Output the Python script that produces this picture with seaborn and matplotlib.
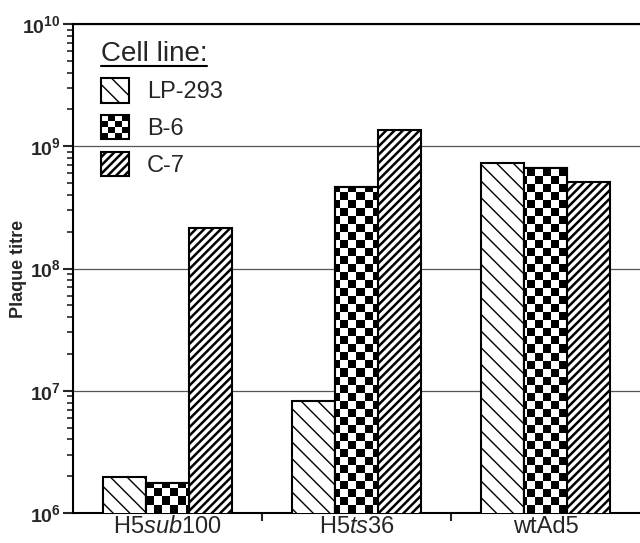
import numpy as np
import pandas as pd
import matplotlib
matplotlib.use('Agg')
import matplotlib.pyplot as plt
import seaborn as sns
from matplotlib.patches import Patch, Rectangle
from matplotlib.legend_handler import HandlerBase
from matplotlib.lines import Line2D
from matplotlib.ticker import LogLocator, FixedLocator, FuncFormatter, NullFormatter

viruses = ['H5sub100', 'H5ts36', 'wtAd5']
virus_labels = [r'H5$\mathit{sub}$100', r'H5$\mathit{ts}$36', 'wtAd5']
cell_lines = ['LP-293', 'B-6', 'C-7']
lp293 = [1.97e6, 8.2e6, 7.3e8]
b6 = [1.76e6, 4.6e8, 6.6e8]
c7 = [2.15e8, 1.36e9, 5.1e8]

df = pd.DataFrame({
    'virus': viruses * 3,
    'cell': [c for c in cell_lines for _ in viruses],
    'titre': lp293 + b6 + c7,
})

sns.set_style('white')
plt.rcParams['font.family'] = ['Liberation Sans', 'DejaVu Sans']
plt.rcParams['mathtext.fontset'] = 'custom'
plt.rcParams['mathtext.rm'] = 'Liberation Sans'
plt.rcParams['mathtext.it'] = 'Liberation Sans:italic'
plt.rcParams['mathtext.bf'] = 'Liberation Sans:bold'
plt.rcParams['hatch.linewidth'] = 1.0

fig = plt.figure(figsize=(6.4, 5.43), dpi=100)
ax = fig.add_axes([73/640, 1 - 513/543, 567/640, 489/543])
ax.set_yscale('log')

sns.barplot(data=df, x='virus', y='titre', hue='cell', order=viruses,
            hue_order=cell_lines, width=0.68, palette=['white'] * 3,
            edgecolor='black', linewidth=1.5, legend=False, ax=ax, zorder=3)


def hatch_lw(p, lw):
    try:
        p.set_hatch_linewidth(lw)
    except AttributeError:
        pass


# hatches
for bar in ax.containers[0]:
    bar.set_hatch('\\\\')
    hatch_lw(bar, 1.0)
for bar in ax.containers[2]:
    bar.set_hatch('////')
    hatch_lw(bar, 1.8)

# checkerboard for B-6
cell = 8.0
ncols = int(567 / cell)
nrows = int(489 / cell)
checker = (np.indices((nrows, ncols)).sum(axis=0) % 2).astype(float)
for bar in ax.containers[1]:
    im = ax.imshow(checker, cmap='gray', extent=[0, 1, 0, 1], transform=ax.transAxes,
                   interpolation='nearest', aspect='auto', zorder=3.5)
    im.set_clip_path(bar)
    edge = Rectangle(bar.get_xy(), bar.get_width(), bar.get_height(), fill=False,
                     edgecolor='black', linewidth=1.5, zorder=4)
    ax.add_patch(edge)
ax.set_xlim(-0.5, 2.5)
ax.set_ylim(1e6, 1e10)
ax.set_aspect('auto')

# axes styling
ax.spines['right'].set_visible(False)
for s in ['left', 'top', 'bottom']:
    ax.spines[s].set_linewidth(1.5)
    ax.spines[s].set_color('black')

ax.yaxis.set_major_locator(LogLocator(base=10, numticks=10))
ax.yaxis.set_minor_locator(LogLocator(base=10, subs=np.arange(2, 10), numticks=20))
ax.yaxis.set_minor_formatter(NullFormatter())
ax.yaxis.set_major_formatter(FuncFormatter(lambda v, p: r'$\mathbf{10^{%d}}$' % round(np.log10(v))))
ax.tick_params(axis='y', which='major', direction='out', length=7, width=1.5, labelsize=14, left=True, pad=2)
ax.tick_params(axis='y', which='minor', direction='out', length=4, width=1.2, left=True)
ax.grid(axis='y', which='major', color='#555555', linewidth=0.9, zorder=0)
ax.set_axisbelow(True)

ax.set_xticks(range(len(viruses)))
ax.set_xticklabels(virus_labels, fontsize=17)
ax.xaxis.set_minor_locator(FixedLocator([0.5, 1.5]))
ax.tick_params(axis='x', which='major', length=0, pad=2)
ax.tick_params(axis='x', which='minor', direction='out', length=6, width=1.5, bottom=True)
ax.set_xlabel('')
ax.set_ylabel('Plaque titre', fontsize=13, fontweight='bold')
ax.yaxis.set_label_coords(-0.082, 0.5)


class CheckerHandler(HandlerBase):
    def create_artists(self, legend, orig_handle, xdescent, ydescent, width, height, fontsize, trans):
        x0, y0 = -xdescent, -ydescent
        arts = [Rectangle((x0, y0), width, height, facecolor='white', edgecolor='none', transform=trans)]
        n = 4
        for i in range(n):
            for j in range(n):
                if (i + j) % 2 == 0:
                    arts.append(Rectangle((x0 + i * width / n, y0 + j * height / n), width / n, height / n,
                                          facecolor='black', edgecolor='none', transform=trans))
        arts.append(Rectangle((x0, y0), width, height, fill=False, edgecolor='black', linewidth=1.5, transform=trans))
        return arts


h_lp = Patch(facecolor='white', edgecolor='black', linewidth=1.5, hatch='\\\\')
h_b6 = Patch(facecolor='black')
h_c7 = Patch(facecolor='white', edgecolor='black', linewidth=1.5, hatch='////')
leg = ax.legend([h_lp, h_b6, h_c7], cell_lines, handler_map={h_b6: CheckerHandler()},
                title='Cell line:', title_fontsize=20, fontsize=17, frameon=False,
                loc='upper left', bbox_to_anchor=(0.02, 1.0), alignment='left',
                handlelength=1.2, handleheight=1.2, handletextpad=0.75, labelspacing=0.5,
                borderpad=0.2)
for h in leg.legend_handles:
    if h is not None and hasattr(h, 'get_hatch') and h.get_hatch() == '////':
        hatch_lw(h, 1.8)

fig.canvas.draw()
tb = leg.get_title().get_window_extent()
fx0, fx1 = tb.x0 / fig.bbox.width, tb.x1 / fig.bbox.width
fy = (tb.y0 + 1) / fig.bbox.height
fig.add_artist(Line2D([fx0, fx1], [fy, fy], color='black', linewidth=1.5, transform=fig.transFigure))

fig.savefig('out.png', dpi=100)
